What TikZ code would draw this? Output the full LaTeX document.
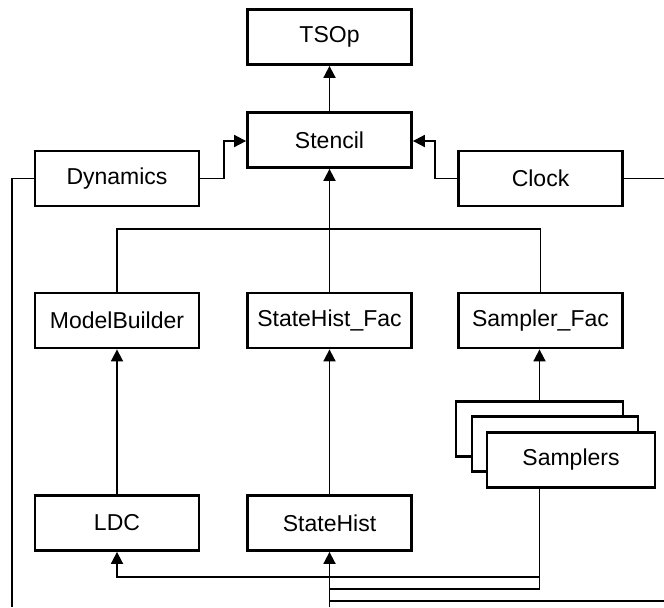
\documentclass[tikz,border=0pt]{standalone}
\usepackage{fontspec}
\setmainfont{Liberation Sans}
\usetikzlibrary{arrows.meta}

\begin{document}
\begin{tikzpicture}[x=0.5pt,y=-0.5pt,
  box/.style={draw=black,line width=1.4pt,fill=white,minimum width=82pt,minimum height=27.5pt,
    inner sep=0pt,font=\fontsize{11.5}{13}\selectfont},
  conn/.style={draw=black,line width=0.9pt},
  arr/.style={-{Triangle[length=6pt,width=6pt]}}]
\useasboundingbox (0,0) rectangle (664,607);

% class boxes
\node[box] (tsop)     at (329.5,37)    {TSOp};
\node[box] (stencil)  at (329.5,140)   {Stencil};
\node[box] (dynamics) at (117,178.5)   {Dynamics};
\node[box] (clock)    at (540.5,178.5) {Clock};
\node[box] (mbuild)   at (117,320.5)   {ModelBuilder};
\node[box] (shfac)    at (329.5,320.5) {StateHist\_Fac};
\node[box] (sfac)     at (540.5,320.5) {Sampler\_Fac};
\node[box] (ldc)      at (117,523)     {LDC};
\node[box] (statehist) at (329.5,523)  {StateHist};

% stacked sampler boxes
\node[box,minimum width=83.5pt] (samp1) at (539.5,429) {};
\node[box,minimum width=83pt]   (samp2) at (555,444)   {};
\node[box,minimum width=84pt]   (samp3) at (571,460)   {Samplers};

% free ends and routing rows
\coordinate (dynjog)   at (224,141);
\coordinate (clkjog)   at (435,141);
\coordinate (leftrail) at (12,607);
\coordinate (rightend) at (664,178.5);
\coordinate (bus)      at (0,229);
\coordinate (ldcrow)   at (0,577);
\coordinate (shrow)    at (0,589);
\coordinate (lowrow)   at (0,601);
\coordinate (lowend)   at (664,601);
\coordinate (bottom)   at (0,607);

% upper part
\draw[conn,arr] (stencil.north) -- (tsop.south);
\draw[conn,arr] (dynamics.east) -| (dynjog) -- (dynjog -| stencil.west);
\draw[conn,arr] (clock.west) -| (clkjog) -- (clkjog -| stencil.east);
\draw[conn,arr] (shfac.north) -- (stencil.south);
\draw[conn] (mbuild.north) |- (bus -| sfac.north) -- (sfac.north);
\draw[conn] (dynamics.west) -| (leftrail);
\draw[conn] (clock.east) -- (rightend);

% factories from products
\draw[conn,arr] (ldc.north) -- (mbuild.south);
\draw[conn,arr] (statehist.north) -- (shfac.south);
\draw[conn,arr] (samp1.north) -- (samp1.north |- sfac.south);

% lower routing
\draw[conn] (samp1.north |- samp3.south) -- (samp1.north |- shrow) -- (statehist.south |- shrow);
\draw[conn,arr] (samp1.north |- ldcrow) -| (ldc.south);
\draw[conn,arr] (statehist.south |- bottom) -- (statehist.south);
\draw[conn] (lowend) -- (statehist.south |- lowrow);
\end{tikzpicture}
\end{document}
